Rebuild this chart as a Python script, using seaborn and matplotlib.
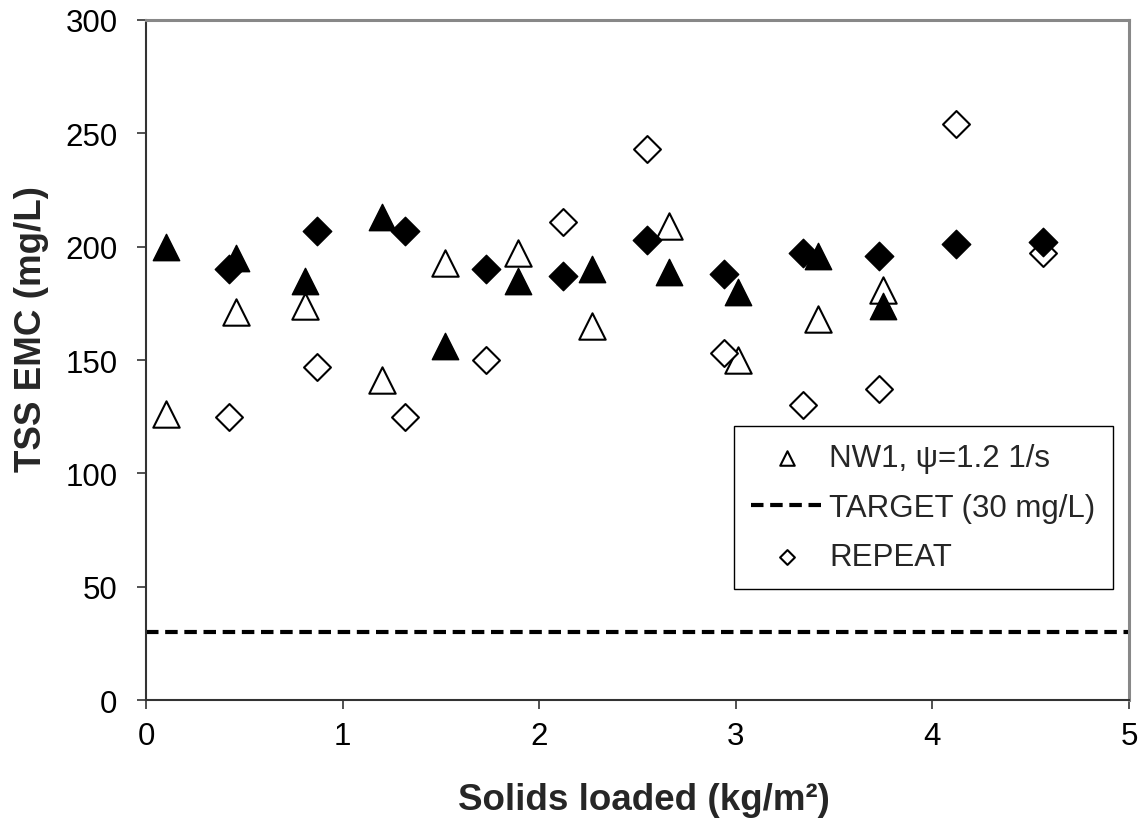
import matplotlib
matplotlib.use("Agg")
import matplotlib.pyplot as plt
import seaborn as sns
import pandas as pd

# Solids loading (kg/m2) for the triangle runs and the diamond runs
tri_x = [0.10, 0.46, 0.81, 1.20, 1.52, 1.89, 2.27, 2.66, 3.01, 3.42, 3.75]
dia_x = [0.42, 0.87, 1.32, 1.73, 2.12, 2.55, 2.94, 3.34, 3.73, 4.12, 4.56]

# TSS event mean concentrations (mg/L)
nw1_open = [126, 171, 174, 141, 193, 197, 165, 209, 150, 168, 181]
nw1_filled = [200, 195, 185, 213, 156, 185, 190, 189, 180, 196, 174]
repeat_open = [125, 147, 125, 150, 211, 243, 153, 130, 137, 254, 197]
repeat_filled = [190, 207, 207, 190, 187, 203, 188, 197, 196, 201, 202]

# Treatment target
target_x = [0, 5]
target_y = [30, 30]

x_ticks = [0, 1, 2, 3, 4, 5]
y_ticks = [0, 50, 100, 150, 200, 250, 300]

sns.set_style("white")
plt.rcParams["font.family"] = ["Liberation Sans", "DejaVu Sans"]

fig = plt.figure(figsize=(11.43, 8.2), dpi=100)
ax = fig.add_axes([0.1277, 0.1451, 0.8601, 0.8293])

tri_ms = 19
dia_ms = 14.5

sns.scatterplot(x=tri_x, y=nw1_open, marker="^", s=tri_ms ** 2, color="white",
                edgecolor="black", linewidth=1.5, label="NW1, \u03c8=1.2 1/s",
                zorder=3, ax=ax)
sns.scatterplot(x=tri_x, y=nw1_filled, marker="^", s=tri_ms ** 2, color="black",
                edgecolor="black", linewidth=1.0, label="_nolegend_",
                zorder=4, ax=ax)
sns.scatterplot(x=dia_x, y=repeat_open, marker="D", s=(dia_ms - 0.8) ** 2, color="white",
                edgecolor="black", linewidth=1.5, label="REPEAT",
                zorder=5, ax=ax)
sns.scatterplot(x=dia_x, y=repeat_filled, marker="D", s=dia_ms ** 2, color="black",
                edgecolor="black", linewidth=1.0, label="_nolegend_",
                zorder=6, ax=ax)
sns.lineplot(x=target_x, y=target_y, color="black", linewidth=3.0,
             dashes=False, label="TARGET (30 mg/L)", zorder=2, ax=ax)
ax.lines[-1].set_dashes((3.0, 1.6))

ax.set_xlim(0, 5)
ax.set_ylim(0, 300)
ax.set_xticks(x_ticks)
ax.set_yticks(y_ticks)
ax.tick_params(axis="both", which="major", direction="out", length=6.5,
               width=1.1, color="#222222", labelsize=22.5, labelcolor="black")
ax.tick_params(axis="y", pad=14)
ax.tick_params(axis="x", pad=8.5)
ax.xaxis.set_ticks_position("bottom")
ax.yaxis.set_ticks_position("left")

for side in ("left", "bottom"):
    ax.spines[side].set_color("#333333")
    ax.spines[side].set_linewidth(1.5)
for side in ("top", "right"):
    ax.spines[side].set_color("#888888")
    ax.spines[side].set_linewidth(2.2)
for sp in ax.spines.values():
    sp.set_visible(True)

ax.set_xlabel("Solids loaded (kg/m\u00b2)", fontsize=26.5, fontweight="bold")
ax.set_ylabel("TSS EMC (mg/L)", fontsize=26.5, fontweight="bold")
ax.xaxis.set_label_coords(0.507, -0.12)
ax.yaxis.set_label_coords(-0.099, 0.547)

handles, labels = ax.get_legend_handles_labels()
order = ["NW1, \u03c8=1.2 1/s", "TARGET (30 mg/L)", "REPEAT"]
hmap = dict(zip(labels, handles))
leg = ax.legend([hmap[k] for k in order], order, loc="upper left",
                bbox_to_anchor=(0.598, 0.403), borderaxespad=0,
                fontsize=22.5, frameon=True, fancybox=False, framealpha=1,
                edgecolor="black", markerscale=0.55, handlelength=2.3,
                handletextpad=0.2, labelspacing=0.62, borderpad=0.55)
leg.get_frame().set_linewidth(1.0)

fig.savefig("out.png", dpi=100, facecolor="white")
